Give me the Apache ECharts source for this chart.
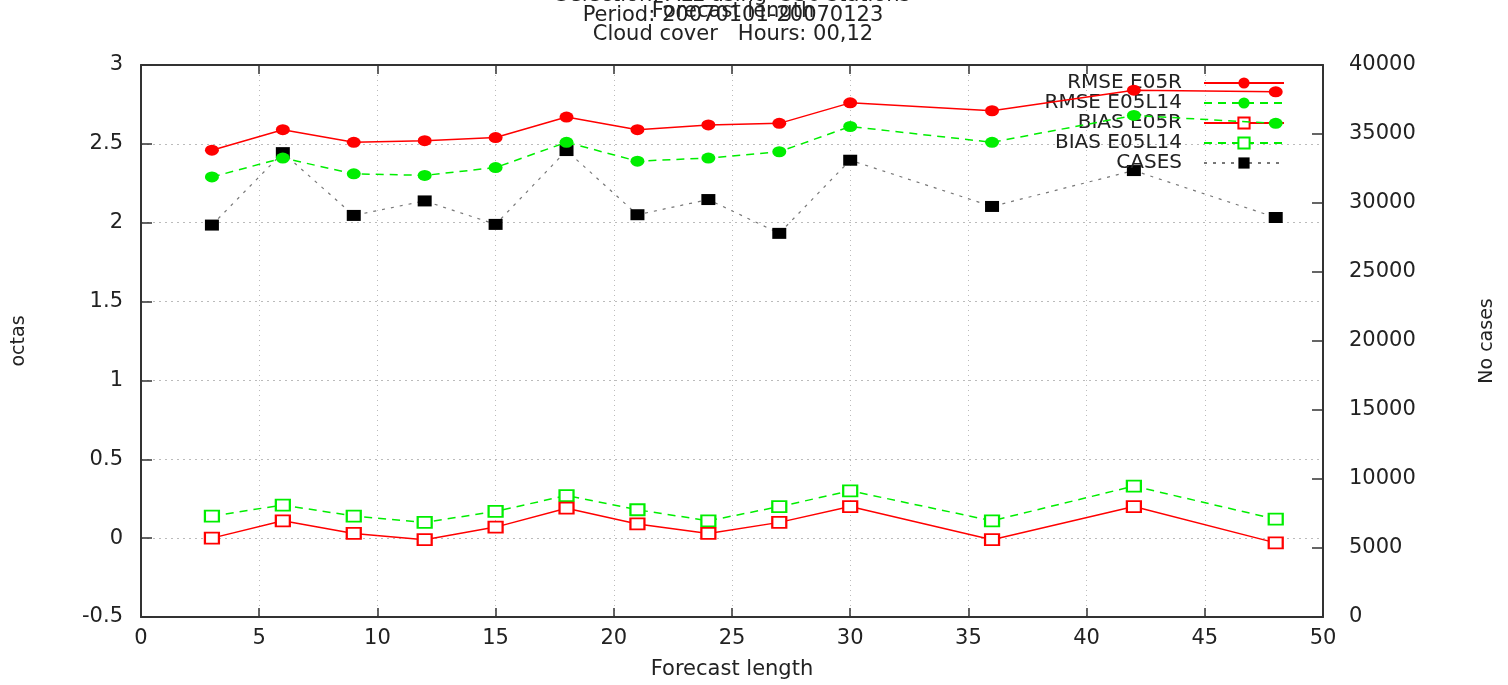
<!DOCTYPE html>
<html>
<head>
<meta charset="utf-8">
<script src="https://cdn.jsdelivr.net/npm/echarts@6/dist/echarts.min.js"></script>
<style>
html,body{margin:0;padding:0;background:#fff;}
#chart{width:1508px;height:685px;}
</style>
</head>
<body>
<div id="chart"></div>
<script>
// ---- data ----
var hours = [3, 6, 9, 12, 15, 18, 21, 24, 27, 30, 36, 42, 48];
var rmseE05R   = [2.46, 2.59, 2.51, 2.52, 2.54, 2.67, 2.59, 2.62, 2.63, 2.76, 2.71, 2.84, 2.83];
var rmseE05L14 = [2.29, 2.41, 2.31, 2.30, 2.35, 2.51, 2.39, 2.41, 2.45, 2.61, 2.51, 2.68, 2.63];
var biasE05R   = [0.00, 0.11, 0.03, -0.01, 0.07, 0.19, 0.09, 0.03, 0.10, 0.20, -0.01, 0.20, -0.03];
var biasE05L14 = [0.14, 0.21, 0.14, 0.10, 0.17, 0.27, 0.18, 0.11, 0.20, 0.30, 0.11, 0.33, 0.12];
var cases      = [28400, 33650, 29100, 30150, 28450, 33800, 29150, 30250, 27800, 33100, 29750, 32350, 28950];
var seriesNames = ['RMSE E05R', 'RMSE E05L14', 'BIAS E05R', 'BIAS E05L14', 'CASES'];
var titleLines = ['Selection: ALL using  536 stations', 'Period: 20070101-20070123', 'Forecast length', 'Cloud cover   Hours: 00,12'];

function pairs(vals) { return hours.map(function (h, i) { return [h, vals[i]]; }); }

var FONT = 'DejaVu Sans';
var TXT = '#222';
var FS = 21;
var chart = echarts.init(document.getElementById('chart'), null, { renderer: 'canvas' });

var titleStyle = { fontFamily: FONT, fontSize: FS, fontWeight: 'normal', color: TXT };
var option = {
  backgroundColor: '#fff',
  animation: false,
  title: [
    { text: titleLines[0], left: 733, textAlign: 'center', top: -15, textStyle: titleStyle, padding: 0 },
    { text: titleLines[1], left: 733, textAlign: 'center', top: 5, textStyle: titleStyle, padding: 0 },
    { text: titleLines[2], left: 733, textAlign: 'center', top: 1, textStyle: titleStyle, padding: 0 },
    { text: titleLines[3], left: 733, textAlign: 'center', top: 24, textStyle: titleStyle, padding: 0 }
  ],
  legend: {
    data: seriesNames,
    orient: 'vertical',
    align: 'right',
    right: 223,
    top: 73,
    itemWidth: 80,
    itemHeight: 14,
    itemGap: 0,
    padding: 0,
    textStyle: { fontFamily: FONT, fontSize: 20, color: TXT, lineHeight: 20, padding: [0, 17, 0, 0] }
  },
  grid: { left: 141, right: 185, top: 65, bottom: 60, containLabel: false },
  xAxis: [{
    type: 'value', min: 0, max: 50, interval: 5, position: 'bottom',
    name: 'Forecast length', nameLocation: 'middle', nameGap: 42,
    nameTextStyle: { fontFamily: FONT, fontSize: FS, color: TXT },
    axisLine: { show: true, onZero: false, lineStyle: { color: '#333', width: 2 } },
    axisTick: { show: true, inside: true, length: 9, lineStyle: { color: '#333', width: 1.5 } },
    axisLabel: { fontFamily: FONT, fontSize: FS, color: TXT, margin: 11 },
    splitLine: { show: true, lineStyle: { color: '#bbb', type: [1, 4], width: 1 } }
  }, {
    type: 'value', min: 0, max: 50, interval: 5, position: 'top',
    axisLine: { show: true, onZero: false, lineStyle: { color: '#333', width: 2 } },
    axisTick: { show: true, inside: true, length: 9, lineStyle: { color: '#333', width: 1.5 } },
    axisLabel: { show: false },
    splitLine: { show: false }
  }],
  yAxis: [{
    type: 'value', min: -0.5, max: 3, interval: 0.5, position: 'left',
    name: 'octas', nameLocation: 'middle', nameGap: 112, nameRotate: 90,
    nameTextStyle: { fontFamily: FONT, fontSize: 19, color: TXT },
    axisLine: { show: true, onZero: false, lineStyle: { color: '#333', width: 2 } },
    axisTick: { show: true, inside: true, length: 11, lineStyle: { color: '#333', width: 1.5 } },
    axisLabel: { fontFamily: FONT, fontSize: FS, color: TXT, margin: 18 },
    splitLine: { show: true, lineStyle: { color: '#bbb', type: [2, 4], width: 1 } }
  }, {
    type: 'value', min: 0, max: 40000, interval: 5000, position: 'right',
    name: 'No cases', nameLocation: 'middle', nameGap: 155, nameRotate: 90,
    nameTextStyle: { fontFamily: FONT, fontSize: 19, color: TXT },
    axisLine: { show: true, onZero: false, lineStyle: { color: '#333', width: 2 } },
    axisTick: { show: true, inside: true, length: 11, lineStyle: { color: '#333', width: 1.5 } },
    axisLabel: { fontFamily: FONT, fontSize: FS, color: TXT, margin: 26, formatter: function (v) { return String(v); } },
    splitLine: { show: false }
  }],
  series: [
    {
      name: seriesNames[0], type: 'line', data: pairs(rmseE05R), yAxisIndex: 0,
      symbol: 'circle', symbolSize: [14, 11],
      lineStyle: { color: '#ff0000', width: 1.5 },
      itemStyle: { color: '#ff0000' }, z: 5
    },
    {
      name: seriesNames[1], type: 'line', data: pairs(rmseE05L14), yAxisIndex: 0,
      symbol: 'circle', symbolSize: [14, 11],
      lineStyle: { color: '#00ee00', width: 1.5, type: [8, 6] },
      itemStyle: { color: '#00ee00' }, z: 4
    },
    {
      name: seriesNames[2], type: 'line', data: pairs(biasE05R), yAxisIndex: 0,
      symbol: 'emptyRect', symbolSize: [14, 11],
      lineStyle: { color: '#ff0000', width: 1.5 },
      itemStyle: { color: '#ff0000', borderWidth: 1.5 }, z: 5
    },
    {
      name: seriesNames[3], type: 'line', data: pairs(biasE05L14), yAxisIndex: 0,
      symbol: 'emptyRect', symbolSize: [14, 11],
      lineStyle: { color: '#00ee00', width: 1.5, type: [8, 6] },
      itemStyle: { color: '#00ee00', borderWidth: 1.5 }, z: 4
    },
    {
      name: seriesNames[4], type: 'line', data: pairs(cases), yAxisIndex: 1,
      symbol: 'rect', symbolSize: [14, 11],
      lineStyle: { color: '#777', width: 1.2, type: [3, 6] },
      itemStyle: { color: '#000' }, z: 3
    }
  ]
};
chart.setOption(option);
</script>
</body>
</html>
